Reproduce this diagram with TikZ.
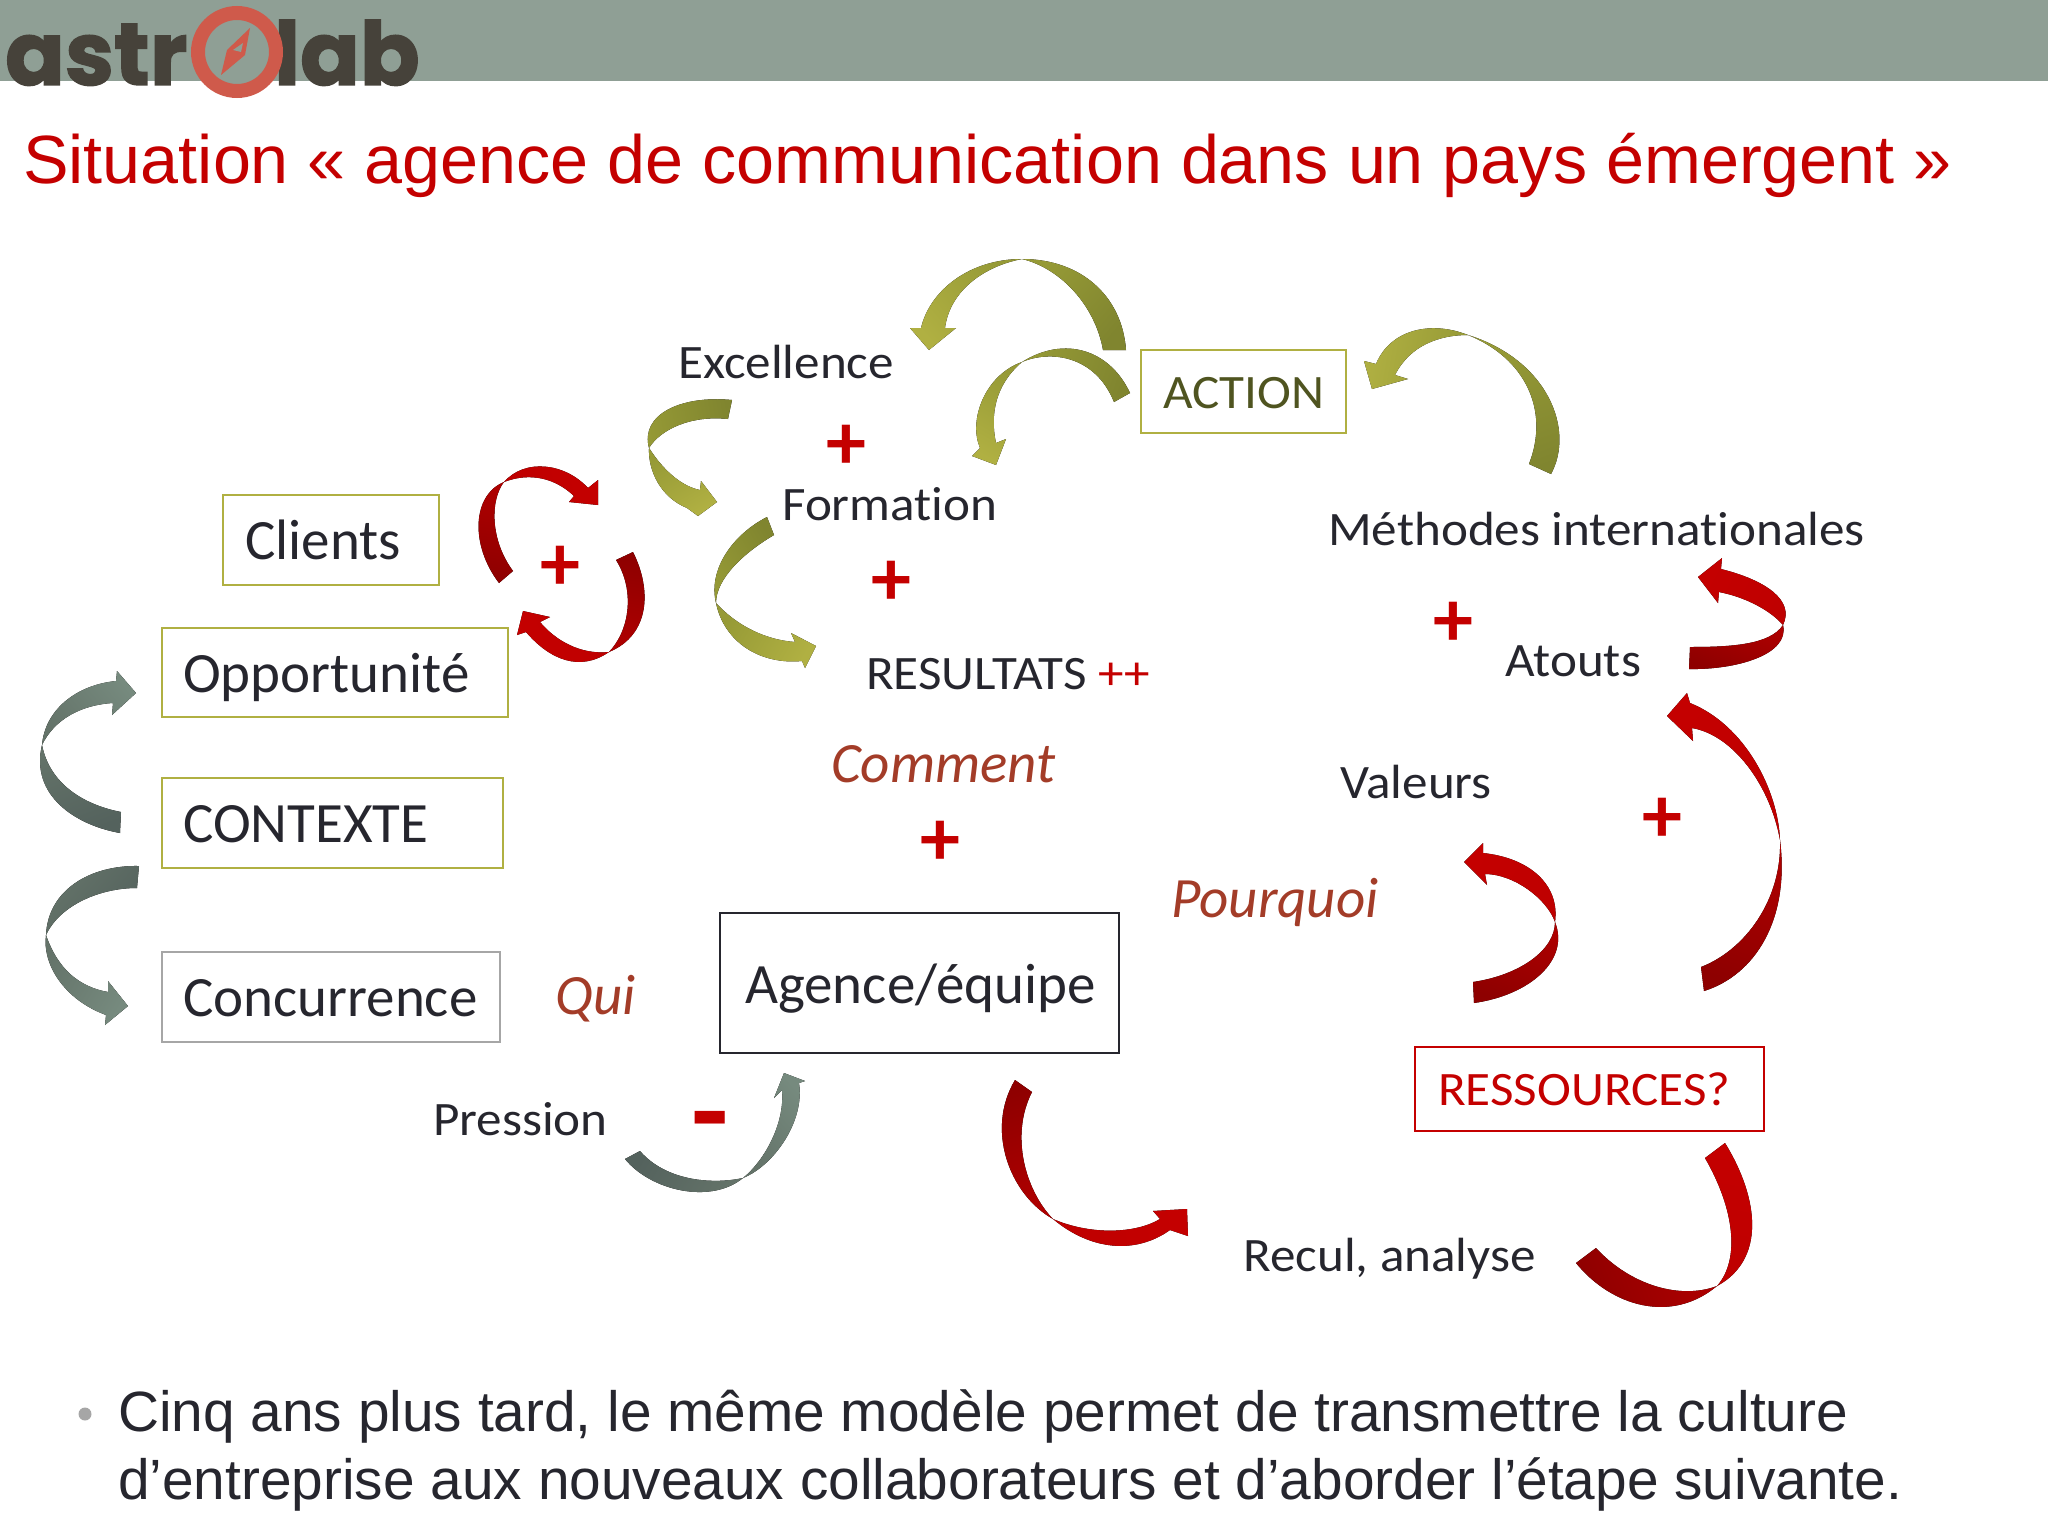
\documentclass[tikz,border=0pt]{standalone}
\usepackage{fontspec}
\setmainfont{Liberation Sans}
\newfontfamily\labelfont[Ligatures=NoCommon]{Carlito}
\newfontfamily\wideslabelfont[Ligatures=NoCommon,FakeStretch=1.065]{Carlito}
\newfontfamily\logofont[BoldFeatures={FakeBold=1.6}]{Poppins}
\usetikzlibrary{positioning}
\definecolor{olivedark}{HTML}{80852F}
\definecolor{olivemid}{HTML}{969A36}
\definecolor{olivelight}{HTML}{B0B042}
\definecolor{reddark}{HTML}{8E0000}
\definecolor{redmid}{HTML}{AE0000}
\definecolor{redlight}{HTML}{C40000}
\definecolor{greydark}{HTML}{54625D}
\definecolor{greymid}{HTML}{647369}
\definecolor{greylight}{HTML}{768A7E}
\definecolor{bandgrey}{HTML}{8F9F95}
\definecolor{inkdark}{HTML}{26262E}
\definecolor{whybrown}{HTML}{A33C28}
\definecolor{actionolive}{HTML}{4F5420}
\definecolor{logored}{HTML}{CF5A4B}
\definecolor{logoink}{HTML}{46423A}
\tikzset{
    olivetail/.style={shading=axis,top color=olivemid,bottom color=olivedark,shading angle=#1},
    olivehead/.style={shading=axis,top color=olivelight,bottom color=olivemid,shading angle=#1},
    redtail/.style={shading=axis,top color=redmid,bottom color=reddark,shading angle=#1},
    redhead/.style={shading=axis,top color=redlight,bottom color=redlight!90!reddark,shading angle=#1},
    greytail/.style={shading=axis,top color=greymid,bottom color=greydark,shading angle=#1},
    greyhead/.style={shading=axis,top color=greylight,bottom color=greymid,shading angle=#1},
    lab/.style={font=\wideslabelfont\fontsize{48}{56}\selectfont,text=inkdark,inner sep=0pt,anchor=base west},
    boxlab/.style={font=\labelfont\fontsize{57}{64}\selectfont,text=inkdark,inner sep=0pt,anchor=base west},
    why/.style={font=\labelfont\itshape\fontsize{57}{60}\selectfont,text=whybrown,inner sep=0pt,anchor=base west},
    plus/.style={font=\labelfont\bfseries\fontsize{80}{90}\selectfont,text=redlight,inner sep=0pt},
    frame/.style={draw=#1,line width=2.5pt},
    logo/.style={font=\logofont\bfseries\fontsize{88}{100}\selectfont,text=logoink,inner sep=0pt,anchor=base west},
    line/.style={font=\fontsize{56.8}{64}\selectfont,text=inkdark,inner sep=0pt,anchor=base west}
}
\begin{document}
\begin{tikzpicture}[x=1pt,y=-1pt]
    \useasboundingbox (0,0) rectangle (2048,1536);
    \fill[bandgrey] (0,0) rectangle (2048,81);
    \node[logo] (logoleft) at (5,85) {astr};
    \node[logo] (logoright) at (274,85) {lab};
    \draw[logored,line width=14pt,fill=bandgrey] (237,52) circle (39);
    \fill[logored] (250,28) -- (245,55) -- (221,75) -- (227,50) -- cycle;
    \fill[bandgrey] (233,50) -- (243,43) -- (241,52) -- cycle;

    \node[font=\fontsize{68.3}{74}\selectfont,text=redlight,inner sep=0pt,anchor=base west] (title) at (23,183)
        {Situation « agence de communication dans un pays émergent »};

    \draw[frame=olivelight] (223,495) rectangle (439,585);
    \draw[frame=olivelight] (162,628) rectangle (508,717);
    \draw[frame=olivelight] (162,778) rectangle (503,868);
    \draw[frame=gray!70] (162,952) rectangle (500,1042);
    \draw[frame=olivelight] (1141,350) rectangle (1346,433);
    \draw[frame=inkdark] (720,913) rectangle (1119,1053);
    \draw[frame=redlight] (1415,1047) rectangle (1764,1131);

    \node[boxlab] (clients) at (245,559) {Clients};
    \node[boxlab] (opportunite) at (183,692) {Opportunité};
    \node[boxlab] (contexte) at (183,842) {CONTEXTE};
    \node[boxlab] (concurrence) at (183,1016) {Concurrence};
    \node[boxlab] (agence) at (745,1003) {Agence/équipe};
    \node[lab,text=actionolive] (action) at (1163,408) {ACTION};
    \node[lab,text=redlight] (ressources) at (1438,1105) {RESSOURCES?};
    \node[lab] (excellence) at (678,378) {Excellence};
    \node[lab] (formation) at (782,520) {Formation};
    \node[lab] (resultats) at (866,689) {RESULTATS \textcolor{redlight}{++}};
    \node[lab] (methodes) at (1328,545) {Méthodes internationales};
    \node[lab] (atouts) at (1505,676) {Atouts};
    \node[lab] (valeurs) at (1340,798) {Valeurs};
    \node[lab] (recul) at (1243,1271) {Recul, analyse};
    \node[lab] (pression) at (433,1135) {Pression};
    \node[why] (comment) at (831,782) {Comment};
    \node[why] (pourquoi) at (1171,917) {Pourquoi};
    \node[why] (qui) at (555,1014) {Qui};

    \node[plus] (plusa) at (846,447) {+};
    \node[plus] (plusb) at (891,583) {+};
    \node[plus] (plusc) at (1453,624) {+};
    \node[plus] (plusd) at (560,568) {+};
    \node[plus] (pluse) at (1662,820) {+};
    \node[plus] (plusf) at (940,843) {+};
    \node[plus,font=\labelfont\bfseries\fontsize{122}{122}\selectfont] (minus) at (710,1132) {-};

    % olive
    \fill[olivetail=50] (1126,350) .. controls (1122,295) and (1080,259) .. (1022,259) .. controls (1060,268) and (1095,305) .. (1103,350) -- cycle;
    \fill[olivehead=130] (1022,259) .. controls (970,259) and (930,290) .. (921,328) -- (910,328) -- (929,350) -- (956,328) -- (945,328) .. controls (950,290) and (985,266) .. (1022,259) -- cycle;
    \fill[olivetail=70] (1130,393) .. controls (1110,350) and (1065,335) .. (1022,362) .. controls (1050,350) and (1095,355) .. (1114,402) -- cycle;
    \fill[olivehead=150] (1022,362) .. controls (985,375) and (968,420) .. (980,448) -- (972,456) -- (996,465) -- (1006,439) -- (996,443) .. controls (990,415) and (995,385) .. (1022,362) -- cycle;
    \fill[olivetail=20] (1551,474) .. controls (1575,430) and (1548,360) .. (1468,335) .. controls (1525,358) and (1550,410) .. (1529,464) -- cycle;
    \fill[olivehead=80] (1468,335) .. controls (1430,320) and (1390,330) .. (1376,364) -- (1364,361) -- (1372,389) -- (1408,379) -- (1395,375) .. controls (1410,345) and (1440,335) .. (1468,335) -- cycle;
    \fill[olivetail=100] (732,400) .. controls (680,395) and (640,415) .. (649,448) .. controls (660,430) and (690,415) .. (728,419) -- cycle;
    \fill[olivehead=-150] (649,448) .. controls (648,470) and (660,497) .. (687,508) -- (698,516) -- (717,502) -- (701,481) -- (700,490) .. controls (684,487) and (665,473) .. (649,448) -- cycle;
    \fill[olivetail=120] (767,517) .. controls (732,535) and (708,570) .. (716,603) .. controls (716,578) and (745,552) .. (774,535) -- cycle;
    \fill[olivehead=-120] (716,603) .. controls (724,642) and (760,665) .. (802,661) -- (805,668) -- (816,646) -- (791,633) -- (795,642) .. controls (767,640) and (738,627) .. (716,603) -- cycle;

    % red
    \fill[redtail=-10] (499,583) .. controls (470,545) and (472,495) .. (504,482) .. controls (490,500) and (490,540) .. (513,571) -- cycle;
    \fill[redhead=-70] (504,482) .. controls (525,458) and (565,463) .. (588,488) -- (598,480) -- (598,505) -- (569,502) -- (574,496) .. controls (555,478) and (530,472) .. (504,482) -- cycle;
    \fill[redtail=170] (633,552) .. controls (652,590) and (650,635) .. (609,652) .. controls (630,630) and (635,590) .. (616,560) -- cycle;
    \fill[redhead=110] (609,652) .. controls (580,672) and (550,660) .. (526,632) -- (517,635) -- (523,611) -- (550,617) -- (540,622) .. controls (555,640) and (580,655) .. (609,652) -- cycle;
    \fill[redtail=-20] (1689,669) .. controls (1735,670) and (1790,655) .. (1783,625) .. controls (1770,645) and (1730,647) .. (1690,647) -- cycle;
    \fill[redhead=60] (1783,625) .. controls (1795,600) and (1765,580) .. (1721,569) -- (1722,558) -- (1698,577) -- (1718,603) -- (1719,592) .. controls (1745,597) and (1770,610) .. (1783,625) -- cycle;
    \fill[redtail=-20] (1704,991) .. controls (1755,975) and (1790,920) .. (1780,840) .. controls (1782,900) and (1745,950) .. (1701,967) -- cycle;
    \fill[redhead=50] (1780,840) .. controls (1778,790) and (1745,725) .. (1690,703) -- (1687,693) -- (1667,716) -- (1693,741) -- (1692,728) .. controls (1733,735) and (1770,785) .. (1780,840) -- cycle;
    \fill[redtail=-20] (1474,1003) .. controls (1530,995) and (1570,960) .. (1555,922) .. controls (1555,950) and (1520,975) .. (1473,982) -- cycle;
    \fill[redhead=60] (1555,922) .. controls (1560,885) and (1530,858) .. (1483,853) -- (1483,843) -- (1464,862) -- (1487,885) -- (1485,874) .. controls (1514,874) and (1547,899) .. (1555,922) -- cycle;
    \fill[redtail=-160] (1015,1080) .. controls (985,1130) and (1010,1195) .. (1053,1219) .. controls (1025,1190) and (1010,1135) .. (1032,1092) -- cycle;
    \fill[redhead=-80] (1053,1219) .. controls (1090,1250) and (1135,1255) .. (1170,1230) -- (1188,1236) -- (1187,1209) -- (1153,1211) -- (1160,1219) .. controls (1135,1234) and (1090,1235) .. (1053,1219) -- cycle;
    \fill[redhead=-10] (1725,1143) .. controls (1760,1200) and (1765,1260) .. (1717,1286) .. controls (1740,1260) and (1735,1210) .. (1705,1158) -- cycle;
    \fill[redtail=-70] (1576,1263) .. controls (1610,1305) and (1670,1325) .. (1717,1286) .. controls (1680,1300) and (1630,1285) .. (1596,1248) -- cycle;

    % grey
    \fill[greytail=20] (120,833) .. controls (75,825) and (30,795) .. (42,745) .. controls (50,785) and (85,805) .. (121,812) -- cycle;
    \fill[greyhead=-50] (42,745) .. controls (45,710) and (76,685) .. (116,681) -- (117,671) -- (136,693) -- (112,715) -- (113,703) .. controls (80,705) and (54,720) .. (42,745) -- cycle;
    \fill[greytail=50] (139,866) .. controls (90,865) and (48,890) .. (46,935) .. controls (60,905) and (100,888) .. (137,888) -- cycle;
    \fill[greyhead=-120] (46,935) .. controls (42,965) and (65,1000) .. (106,1015) -- (105,1025) -- (128,1006) -- (108,981) -- (108,992) .. controls (80,987) and (58,970) .. (46,935) -- cycle;
    \fill[greytail=-120] (625,1159) .. controls (650,1190) and (710,1205) .. (743,1178) .. controls (710,1185) and (665,1180) .. (640,1151) -- cycle;
    \fill[greyhead=-50] (743,1178) .. controls (775,1165) and (805,1120) .. (799,1083) -- (805,1081) -- (784,1073) -- (774,1098) -- (782,1090) .. controls (785,1123) and (765,1160) .. (743,1178) -- cycle;

    \fill[gray!70] (85,1414) circle (6.5);
    \node[line] (bulletone) at (118,1431) {Cinq ans plus tard, le même modèle permet de transmettre la culture};
    \node[line] (bullettwo) at (118,1499) {d’entreprise aux nouveaux collaborateurs et d’aborder l’étape suivante.};
\end{tikzpicture}
\end{document}
